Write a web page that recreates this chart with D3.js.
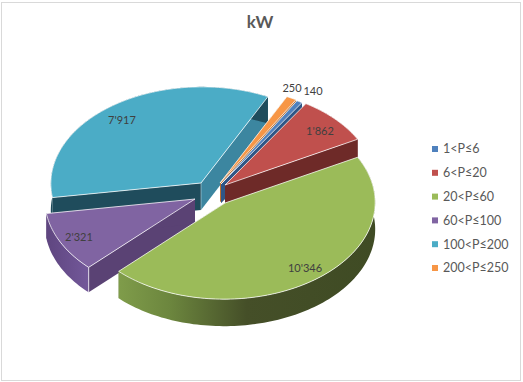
<!DOCTYPE html>
<html>
<head>
<meta charset="utf-8">
<script src="https://cdn.jsdelivr.net/npm/d3@7"></script>
<style>
  html, body { margin: 0; padding: 0; background: #fff; }
  svg { display: block; }
  text { font-family: Lato, "Open Sans", sans-serif; }
</style>
</head>
<body>
<div id="chart"></div>
<script>
// Chart data
const categories = ["1<P≤6", "6<P≤20", "20<P≤60", "60<P≤100", "100<P≤200", "200<P≤250"];
const values = [140, 1862, 10346, 2321, 7917, 250];
const title = "kW";

// Colours for top face, cut walls and rim
const topColors = ["#4f81bd", "#c0504d", "#9bbb59", "#8064a2", "#4bacc6", "#f79646"];
const cutColors = ["#2f5686", "#6e2a28", "#5d7233", "#5a4274", "#3c86a0", "#c0702c"];
const rimColors = ["#2f5686", "#6e2a28", "url(#rimGreen)", "url(#rimPurple)", "#1f4c5c", "#c0702c"];

// Where each exploded slice sits: apex, wall height, draw order is back to front
const apexX = [221, 225, 225, 195, 201, 220];
const apexY = [184, 185, 203, 199, 183, 183];
const wallH = [19, 19, 27, 25, 27, 19];
const drawOrder = [4, 5, 0, 1, 3, 2];

// Label anchor points
const labelX = [313, 320, 305, 79, 122, 292];
const labelY = [91, 131, 268, 237, 120, 88];

const width = 523, height = 382;

const svg = d3.select("#chart")
  .append("svg")
    .attr("width", width)
    .attr("height", height);

// Border of the chart area
svg.append("rect")
    .attr("x", 1.5).attr("y", 2.5)
    .attr("width", 519).attr("height", 378)
    .attr("fill", "#fff")
    .attr("stroke", "#d9d9d9");

// Gradients for the curved walls
const defs = svg.append("defs");
function rimGradient(id, x1, x2, stops) {
  const g = defs.append("linearGradient")
      .attr("id", id)
      .attr("gradientUnits", "userSpaceOnUse")
      .attr("x1", x1).attr("x2", x2).attr("y1", 0).attr("y2", 0);
  stops.forEach(function(s) {
    g.append("stop").attr("offset", s[0]).attr("stop-color", s[1]);
  });
}
rimGradient("rimGreen", 119, 374, [[0, "#7f9c4a"], [0.2, "#6c863e"], [0.5, "#454f28"], [1, "#3f4b24"]]);
rimGradient("rimPurple", 47, 89, [[0, "#5f4680"], [1, "#73589a"]]);

// Pie angles, clockwise from north like Excel's first slice angle
const arcs = d3.pie()
    .sort(null)
    .startAngle(33.3 * Math.PI / 180)
    .endAngle((33.3 + 360) * Math.PI / 180)(values);

// The tilted disc: a circle point to an offset from the apex
function project(a) {
  const u = Math.sin(a), v = -Math.cos(a);
  return [150 * u + 7.6 * v, -5.5 * u + 96 * v];
}

const line = d3.line();

function rimPoints(i) {
  const a0 = arcs[i].startAngle, a1 = arcs[i].endAngle;
  const n = Math.max(2, Math.ceil((a1 - a0) * 40));
  return d3.range(n + 1).map(function(k) {
    const p = project(a0 + (a1 - a0) * k / n);
    return [apexX[i] + p[0], apexY[i] + p[1]];
  });
}

function shift(pts, dy) {
  return pts.map(function(p) { return [p[0], p[1] + dy]; });
}

// Draw the slices back to front
drawOrder.forEach(function(i) {
  const g = svg.append("g");
  const apex = [apexX[i], apexY[i]];
  const rim = rimPoints(i);
  const h = wallH[i];
  const first = rim[0], last = rim[rim.length - 1];

  // Flat cut walls
  [first, last].forEach(function(end, k) {
    let fill = cutColors[i];
    if (i === 4 && k === 0) fill = "#1f4c5c";
    g.append("path")
        .attr("d", line([apex, end, [end[0], end[1] + h], [apex[0], apex[1] + h]]) + "Z")
        .attr("fill", fill);
  });

  // Curved wall
  g.append("path")
      .attr("d", line(rim.concat(shift(rim, h).reverse())) + "Z")
      .attr("fill", rimColors[i]);

  // Light edge where the walls meet in front
  if (i === 3) {
    g.append("path")
        .attr("d", line([first, [first[0], first[1] + h]]))
        .attr("stroke", "#fff").attr("stroke-opacity", 0.7).attr("fill", "none");
  }
  if (i === 4) {
    g.append("path")
        .attr("d", line([apex, [apex[0], apex[1] + h]]))
        .attr("stroke", "#fff").attr("stroke-opacity", 0.4).attr("fill", "none");
  }

  // Top face
  g.append("path")
      .attr("d", line([apex].concat(rim)) + "Z")
      .attr("fill", topColors[i])
      .attr("stroke", "#fff")
      .attr("stroke-opacity", 0.75)
      .attr("stroke-width", 1)
      .attr("stroke-linejoin", "round");
});

// Title
svg.append("text")
    .attr("x", 260).attr("y", 28)
    .attr("text-anchor", "middle")
    .attr("font-size", 17)
    .attr("font-weight", "bold")
    .attr("fill", "#595959")
    .text(title);

// Data labels with the apostrophe as thousands separator
const fmt = d3.formatLocale({ decimal: ".", thousands: "'", grouping: [3], currency: ["", ""] }).format(",");
svg.append("g").selectAll("text")
  .data(values)
  .enter()
  .append("text")
    .attr("x", function(d, i) { return labelX[i]; })
    .attr("y", function(d, i) { return labelY[i]; })
    .attr("dy", "0.35em")
    .attr("text-anchor", "middle")
    .attr("font-size", 11)
    .attr("fill", "#404040")
    .text(function(d) { return fmt(d); });

// Legend
const legendY = d3.scalePoint()
    .domain(categories)
    .range([149, 268]);
const legend = svg.append("g").selectAll("g")
  .data(categories)
  .enter()
  .append("g")
    .attr("transform", function(d) { return "translate(432," + legendY(d) + ")"; });
legend.append("rect")
    .attr("y", -3)
    .attr("width", 6).attr("height", 6)
    .attr("fill", function(d, i) { return topColors[i]; });
legend.append("text")
    .attr("x", 11)
    .attr("dy", "0.35em")
    .attr("font-size", 12.5)
    .attr("fill", "#595959")
    .text(function(d) { return d; });
</script>
</body>
</html>
